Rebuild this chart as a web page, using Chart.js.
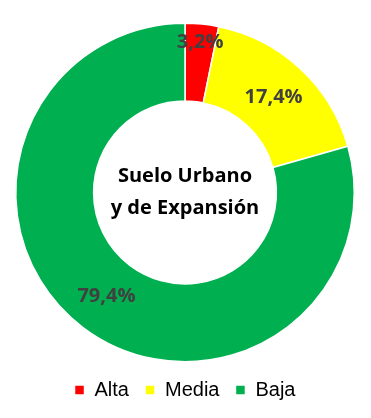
<!DOCTYPE html>
<html>
<head>
<meta charset="utf-8">
<script src="https://cdn.jsdelivr.net/npm/chart.js@4"></script>
<style>
  html, body { margin: 0; padding: 0; background: #fff; }
  #wrap { width: 371px; height: 418px; }
</style>
</head>
<body>
<div id="wrap"><canvas id="myChart" width="371" height="418"></canvas></div>
<script>
const categories = ['Alta', 'Media', 'Baja'];
const values = [3.2, 17.4, 79.4];
const colors = ['#FF0000', '#FFFF00', '#00B050'];
const centerLines = ['Suelo Urbano', 'y de Expansión'];

// percentage labels on the ring, small slices pushed toward the outer edge
const sliceLabels = {
    id: 'sliceLabels',
    afterDatasetsDraw(chart) {
        const ctx = chart.ctx;
        const meta = chart.getDatasetMeta(0);
        ctx.save();
        ctx.font = 'bold 20px "Open Sans"';
        ctx.fillStyle = '#404040';
        ctx.textAlign = 'center';
        ctx.textBaseline = 'middle';
        meta.data.forEach((arc, i) => {
            const p = arc.getProps(['x', 'y', 'startAngle', 'endAngle', 'innerRadius', 'outerRadius'], true);
            const mid = (p.startAngle + p.endAngle) / 2;
            const f = values[i] < 5 ? 0.76 : 0.5;
            const r = p.innerRadius + (p.outerRadius - p.innerRadius) * f;
            const label = values[i].toFixed(1).replace('.', ',') + '%';
            ctx.fillText(label, p.x + Math.cos(mid) * r, p.y + Math.sin(mid) * r);
        });
        ctx.restore();
    }
};

const centerText = {
    id: 'centerText',
    afterDraw(chart) {
        const ctx = chart.ctx;
        const meta = chart.getDatasetMeta(0);
        const x = meta.data[0].x, y = meta.data[0].y;
        ctx.save();
        ctx.font = 'bold 20px "Open Sans"';
        ctx.fillStyle = '#000';
        ctx.textAlign = 'center';
        ctx.textBaseline = 'middle';
        ctx.fillText(centerLines[0], x, y - 16);
        ctx.fillText(centerLines[1], x, y + 16);
        ctx.restore();
    }
};

const myChart = new Chart(document.getElementById('myChart').getContext('2d'), {
    type: 'doughnut',
    data: {
        labels: categories,
        datasets: [{
            data: values,
            backgroundColor: colors,
            borderColor: '#ffffff',
            borderWidth: 1.5
        }]
    },
    options: {
        responsive: false,
        animation: false,
        cutout: '54%',
        layout: {
            padding: { top: 21, left: 15, right: 16, bottom: 8 }
        },
        plugins: {
            legend: {
                position: 'bottom',
                labels: {
                    boxWidth: 10,
                    boxHeight: 10,
                    padding: 16,
                    color: '#000',
                    font: { family: '"Liberation Sans", Arial', size: 20 }
                }
            },
            tooltip: { enabled: false }
        }
    },
    plugins: [sliceLabels, centerText]
});
</script>
</body>
</html>
